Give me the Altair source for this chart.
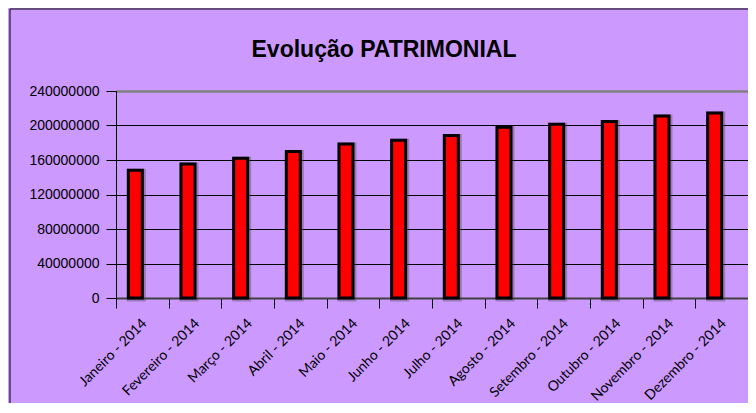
import altair as alt
import pandas as pd

months = ["Janeiro - 2014", "Fevereiro - 2014", "Março - 2014", "Abril - 2014",
          "Maio - 2014", "Junho - 2014", "Julho - 2014", "Agosto - 2014",
          "Setembro - 2014", "Outubro - 2014", "Novembro - 2014", "Dezembro - 2014"]
values = [148000000, 155500000, 162000000, 170000000, 178500000, 183000000,
          188500000, 198000000, 201500000, 204500000, 211000000, 214500000]
y_ticks = [0, 40000000, 80000000, 120000000, 160000000, 200000000, 240000000]
title_text = ["Evolução PATRIMONIAL"]

df = pd.DataFrame({"mes": months, "valor": values})

x_enc = alt.X("mes:N", sort=months, title=None,
              scale=alt.Scale(paddingInner=0, paddingOuter=0),
              axis=alt.Axis(labelAngle=-45, labelAlign="right", labelBaseline="top",
                            labelFont="Lato", labelFontSize=14, labelColor="black",
                            labelPadding=8, labelOffset=-3,
                            tickBand="extent", tickSize=10, tickColor="black",
                            domainColor="#404040", domainWidth=2, grid=False))
y_enc = alt.Y("valor:Q", title=None,
              scale=alt.Scale(domain=[0, 240000000], nice=False),
              axis=alt.Axis(values=y_ticks, format="d",
                            labelFont="Liberation Sans", labelFontSize=14,
                            labelColor="black", labelPadding=7,
                            tickSize=10, tickColor="black",
                            domainColor="black", domainWidth=1,
                            grid=True,
                            gridColor={"condition": {"test": "datum.value >= 240000000", "value": "#808080"}, "value": "black"},
                            gridWidth={"condition": {"test": "datum.value >= 240000000", "value": 2.5}, "value": 1}))

shadow = alt.Chart(df).mark_bar(size=14, xOffset=-6, yOffset=1, fill="#404040",
                                fillOpacity=0.35, stroke="#404040", strokeOpacity=0.35,
                                strokeWidth=5).encode(x=x_enc, y=y_enc)
bars = alt.Chart(df).mark_bar(size=14, xOffset=-7, fill="#FF0000", stroke="black",
                              strokeWidth=3).encode(x=x_enc, y=y_enc)

one = pd.DataFrame({"a": [0]})
border_left = alt.Chart(one).mark_rule(color="black", strokeWidth=1).encode(
    x=alt.value(-106), y=alt.value(-82), y2=alt.value(312))
border_top = alt.Chart(one).mark_rule(color="black", strokeWidth=1).encode(
    x=alt.value(-106), x2=alt.value(632), y=alt.value(-82))

tdf = pd.DataFrame({"t": title_text})
title = alt.Chart(tdf).mark_text(font="Liberation Sans", fontSize=23, fontWeight="bold",
                                 color="black", align="center", baseline="alphabetic").encode(
    text="t:N", x=alt.value(268), y=alt.value(-34))

chart = alt.layer(shadow, bars, border_left, border_top, title).properties(
    width=632, height=207,
    autosize=alt.AutoSizeParams(type="none"),
    padding={"left": 108, "top": 83, "right": 0, "bottom": 105},
    background="#CC99FF",
).configure_view(stroke=None)

chart.save("out.html", embed_options={"renderer": "svg", "actions": False})
